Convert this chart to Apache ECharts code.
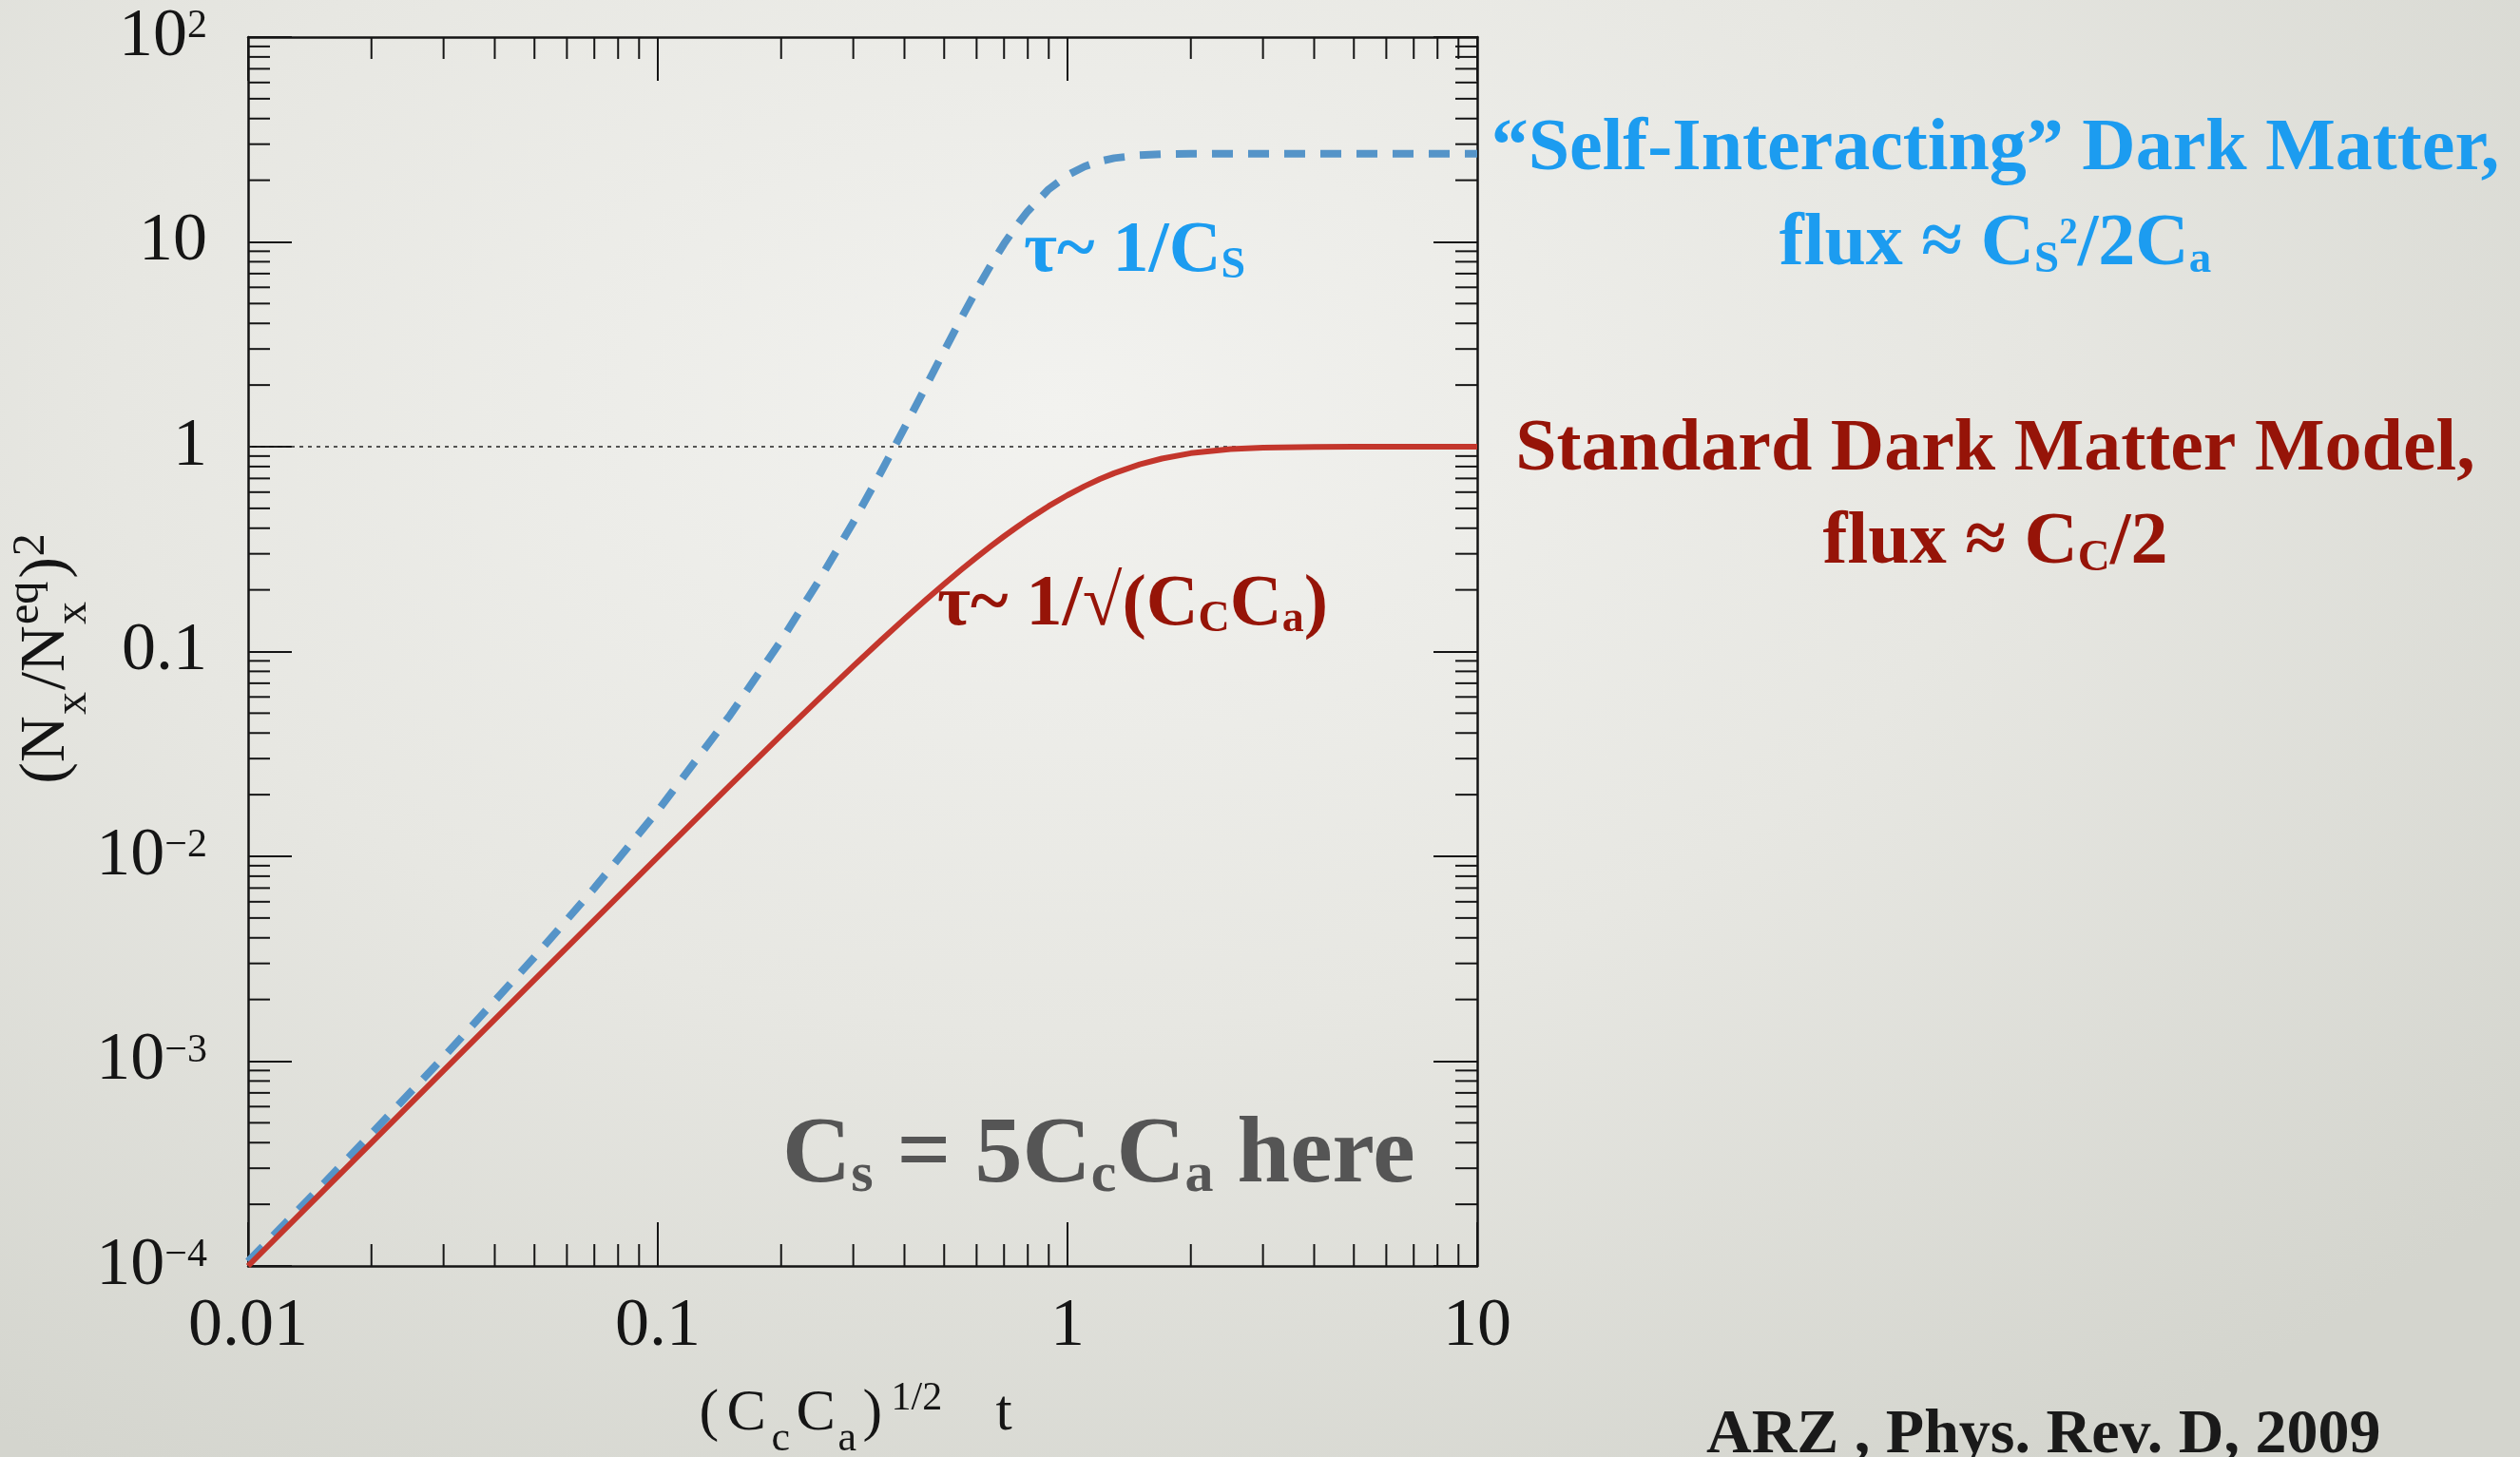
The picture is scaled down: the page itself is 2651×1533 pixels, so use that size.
<!DOCTYPE html>
<html>
<head>
<meta charset="utf-8">
<script src="https://cdn.jsdelivr.net/npm/echarts@6/dist/echarts.min.js"></script>
<style>
html,body{margin:0;padding:0;width:2651px;height:1533px;overflow:hidden;
background:radial-gradient(ellipse 75% 85% at 42% 28%, #F2F2EF 0%, #E7E7E2 50%, #D4D5CE 100%);}
#c{width:2651px;height:1533px;}
</style>
</head>
<body>
<div id="c"></div>
<script>
// ---------- data ----------
const xRange = [0.01, 10];
const yRange = [1e-4, 100];
const xTickValues = [0.01, 0.1, 1, 10];
const xTickLabels = ['0.01', '0.1', '1', '10'];
const yTickValues = [1e-4, 1e-3, 1e-2, 0.1, 1, 10, 100];
const yTickBase = ['10', '10', '10', '0.1', '1', '10', '10'];
const yTickExp = ['\u22124', '\u22123', '\u22122', '', '', '', '2'];
const xMinorTicks = [0.02,0.03,0.04,0.05,0.06,0.07,0.08,0.09,
  0.2,0.3,0.4,0.5,0.6,0.7,0.8,0.9, 2,3,4,5,6,7,8,9];
const yMinorTicks = [2e-4,3e-4,4e-4,5e-4,6e-4,7e-4,8e-4,9e-4,
  2e-3,3e-3,4e-3,5e-3,6e-3,7e-3,8e-3,9e-3,
  0.02,0.03,0.04,0.05,0.06,0.07,0.08,0.09,
  0.2,0.3,0.4,0.5,0.6,0.7,0.8,0.9,
  2,3,4,5,6,7,8,9, 20,30,40,50,60,70,80,90];
const tValues = [0.01, 0.015, 0.02, 0.03, 0.05, 0.07, 0.1, 0.15, 0.2, 0.25, 0.3, 0.35, 0.4, 0.45,
  0.5, 0.55, 0.6, 0.65, 0.7, 0.75, 0.8, 0.9, 1.0, 1.1, 1.2, 1.3, 1.5, 1.7, 2, 2.5, 3, 4, 5, 7, 10];
const standardDM = [1.0e-4, 2.25e-4, 4.0e-4, 9.0e-4, 2.496e-3, 4.884e-3, 9.934e-3, 0.02217, 0.03896,
  0.05999, 0.08486, 0.11315, 0.14436, 0.17800, 0.21355, 0.25052, 0.28842, 0.32681, 0.36526, 0.40341,
  0.44095, 0.51308, 0.58002, 0.64080, 0.69498, 0.74257, 0.81929, 0.87499, 0.92935, 0.97341, 0.99013,
  0.99866, 0.99982, 1.0, 1.0];
const selfInteractingDM = [1.052e-4, 2.426e-4, 4.423e-4, 1.047e-3, 3.221e-3, 6.999e-3, 0.01669, 0.04883,
  0.1130, 0.2297, 0.4279, 0.7473, 1.2364, 1.9492, 2.9353, 4.2282, 5.8308, 7.7073, 9.7838, 11.960,
  14.128, 18.074, 21.162, 23.331, 24.751, 25.638, 26.501, 26.804, 26.931, 26.961, 26.963, 26.963,
  26.963, 26.963, 26.963];
const unityLevel = 1;

// ---------- helpers ----------
const SERIF = '"Liberation Serif", "Times New Roman", serif';
const INK = '#151515';
const BLUE_TXT = '#1C9CF0';
const RED_TXT = '#961408';

function pairs(xs, ys) { return xs.map((x, i) => [x, ys[i]]); }
function fmtX(v) {
  const i = Math.round(Math.log10(v)) + 2;
  return xTickLabels[i] !== undefined ? xTickLabels[i] : '';
}
function fmtY(v) {
  const i = Math.round(Math.log10(v)) + 4;
  if (yTickBase[i] === undefined) return '';
  return '{b|' + yTickBase[i] + '}' + (yTickExp[i] ? '{p|' + yTickExp[i] + '}' : '');
}
function annRich(F, color, weight) {
  return {
    m: {fontSize: F, lineHeight: F, fontFamily: SERIF, fontWeight: weight, fill: color},
    s: {fontSize: Math.round(0.6 * F), height: Math.round(0.59 * F), verticalAlign: 'bottom',
        fontFamily: SERIF, fontWeight: weight, fill: color},
    p: {fontSize: Math.round(0.5 * F), height: Math.round(0.69 * F), verticalAlign: 'top',
        fontFamily: SERIF, fontWeight: weight, fill: color}
  };
}
function ann(text, x, y, color, F, align) {
  return {type: 'text', x: x, y: y, z: 50,
    style: {text: text, rich: annRich(F, color, 'bold'), align: align, verticalAlign: 'middle',
      font: 'bold ' + F + 'px ' + SERIF, fill: color}};
}

// y-axis name (rotated, with stacked sub/superscript)
const ctx = document.createElement('canvas').getContext('2d');
function tw(str, size) { ctx.font = size + 'px ' + SERIF; return ctx.measureText(str).width; }
const FN = 68, FS = 48;
const yNameParts = [];
let cx = 0;
function put(str, size, dy) {
  yNameParts.push({type: 'text', x: cx, y: dy,
    style: {text: str, font: size + 'px ' + SERIF, fill: INK, align: 'left', verticalAlign: 'middle'}});
}
const subDy = 28, supDy = -22, supDy2 = -16;
put('(N', FN, 0); cx += tw('(N', FN) + 1;
put('x', FS, subDy); cx += tw('x', FS) + 2;
put('/N', FN, 0); cx += tw('/N', FN) + 1;
put('x', FS, subDy); put('eq', FS, supDy); cx += Math.max(tw('x', FS), tw('eq', FS)) + 3;
put(')', FN, 0); cx += tw(')', FN) + 1;
put('2', FS, supDy2); cx += tw('2', FS);
const yNameW = cx;

const tickLine = {color: INK, width: 2};
const axisLineStyle = {color: INK, width: 2.5};

const chart = echarts.init(document.getElementById('c'), null, {renderer: 'canvas', width: 2651, height: 1533});

const xBase = {
  type: 'log', logBase: 10, min: xRange[0], max: xRange[1], gridIndex: 0,
  axisLine: {show: true, onZero: false, lineStyle: axisLineStyle},
  axisTick: {show: true, inside: true, length: 46, lineStyle: tickLine},
  splitLine: {show: false}, minorTick: {show: false}, minorSplitLine: {show: false}
};
const yBase = {
  type: 'log', logBase: 10, min: yRange[0], max: yRange[1], gridIndex: 0,
  axisLine: {show: true, onZero: false, lineStyle: axisLineStyle},
  axisTick: {show: true, inside: true, length: 46, lineStyle: tickLine},
  splitLine: {show: false}, minorTick: {show: false}, minorSplitLine: {show: false}
};
function nt(size, width, extra) {
  return Object.assign({fontSize: size, width: width, align: 'left', fontFamily: SERIF, color: INK}, extra || {});
}

const option = {
  animation: false,
  backgroundColor: 'transparent',
  grid: {left: 261, top: 39, width: 1293, height: 1293, containLabel: false, outerBoundsMode: 'none'},
  xAxis: [
    Object.assign({}, xBase, {
      position: 'bottom',
      axisLabel: {show: true, margin: 28, fontSize: 72, fontFamily: SERIF, color: INK,
        formatter: fmtX, showMinLabel: true, showMaxLabel: true},
      name: '{a|(}{b|C}{s|c}{b2|C}{s|a}{c|)}{p|1/2}{t|t}',
      nameLocation: 'middle', nameGap: 125,
      nameTextStyle: {fontFamily: SERIF, color: INK, rich: {
        a: nt(62, 29, {lineHeight: 62}),
        b: nt(62, 47, {lineHeight: 62}),
        b2: nt(62, 44, {lineHeight: 62}),
        s: nt(44, 26, {height: 10, verticalAlign: 'bottom'}),
        c: nt(62, 30, {lineHeight: 62}),
        p: nt(42, 110, {height: 30, verticalAlign: 'top'}),
        t: nt(62, 32, {lineHeight: 62})
      }}
    }),
    Object.assign({}, xBase, {position: 'top', axisLabel: {show: false}})
  ],
  yAxis: [
    Object.assign({}, yBase, {
      position: 'left',
      axisLabel: {show: true, margin: 43, formatter: fmtY, showMinLabel: true, showMaxLabel: true,
        fontFamily: SERIF, color: INK,
        rich: {
          b: {fontSize: 72, lineHeight: 72, fontFamily: SERIF, color: INK},
          p: {fontSize: 42, height: 50, verticalAlign: 'top', fontFamily: SERIF, color: INK}
        }}
    }),
    Object.assign({}, yBase, {position: 'right', axisLabel: {show: false}})
  ],
  series: [
    {
      name: 'minorX', type: 'custom', xAxisIndex: 0, yAxisIndex: 0, silent: true, clip: false, z: 5,
      data: xMinorTicks.map(v => [v, 1]),
      encode: {x: 0, y: 1},
      renderItem: function (params, api) {
        const v = api.value(0);
        const pb = api.coord([v, yRange[0]]);
        const pt = api.coord([v, yRange[1]]);
        return {type: 'group', children: [
          {type: 'line', shape: {x1: pb[0], y1: pb[1], x2: pb[0], y2: pb[1] - 23}, style: {stroke: INK, lineWidth: 2}},
          {type: 'line', shape: {x1: pt[0], y1: pt[1], x2: pt[0], y2: pt[1] + 23}, style: {stroke: INK, lineWidth: 2}}
        ]};
      }
    },
    {
      name: 'minorY', type: 'custom', xAxisIndex: 0, yAxisIndex: 0, silent: true, clip: false, z: 5,
      data: yMinorTicks.map(v => [1, v]),
      encode: {x: 0, y: 1},
      renderItem: function (params, api) {
        const v = api.value(1);
        const pl = api.coord([xRange[0], v]);
        const pr = api.coord([xRange[1], v]);
        return {type: 'group', children: [
          {type: 'line', shape: {x1: pl[0], y1: pl[1], x2: pl[0] + 23, y2: pl[1]}, style: {stroke: INK, lineWidth: 2}},
          {type: 'line', shape: {x1: pr[0], y1: pr[1], x2: pr[0] - 23, y2: pr[1]}, style: {stroke: INK, lineWidth: 2}}
        ]};
      }
    },
    {
      name: 'Self-Interacting', type: 'line', xAxisIndex: 0, yAxisIndex: 0, z: 10,
      data: pairs(tValues, selfInteractingDM),
      showSymbol: false, symbol: 'none', smooth: false,
      lineStyle: {color: '#5594C8', width: 8, type: [22, 16], cap: 'butt', join: 'round'}
    },
    {
      name: 'Standard', type: 'line', xAxisIndex: 0, yAxisIndex: 0, z: 11,
      data: pairs(tValues, standardDM),
      showSymbol: false, symbol: 'none', smooth: false,
      lineStyle: {color: '#C3362C', width: 6, join: 'round'},
      markLine: {
        silent: true, symbol: ['none', 'none'], label: {show: false}, animation: false, z: 3,
        lineStyle: {color: '#222', width: 1.5, type: [4, 5]},
        data: [{yAxis: unityLevel}]
      }
    }
  ],
  graphic: [
    {type: 'group', x: 49, y: 693 + yNameW / 2, rotation: Math.PI / 2, children: yNameParts},
    ann('{m|\u201CSelf-Interacting\u201D Dark Matter,}', 2099, 158, BLUE_TXT, 78, 'center'),
    ann('{m|flux \u2248 C}{s|S}{p|2}{m|/2C}{s|a}', 2099, 258, BLUE_TXT, 78, 'center'),
    ann('{m|Standard Dark Matter Model,}', 2099, 474, RED_TXT, 78, 'center'),
    ann('{m|flux \u2248 C}{s|C}{m|/2}', 2099, 572, RED_TXT, 78, 'center'),
    ann('{m|\u03C4~ 1/C}{s|S}', 1077, 265, BLUE_TXT, 76, 'left'),
    ann('{m|\u03C4~ 1/\u221A(C}{s|C}{m|C}{s|a}{m|)}', 986, 637, RED_TXT, 76, 'left'),
    ann('{m|C}{s|s}{m| = 5C}{s|c}{m|C}{s|a}{m| here}', 823, 1217, '#555555', 100, 'left'),
    {type: 'text', x: 1795, y: 1511, z: 50,
      style: {text: 'ARZ , Phys. Rev. D, 2009', font: 'bold 66px ' + SERIF, fill: '#1A1A1A',
        align: 'left', verticalAlign: 'middle'}}
  ]
};
chart.setOption(option);
</script>
</body>
</html>
